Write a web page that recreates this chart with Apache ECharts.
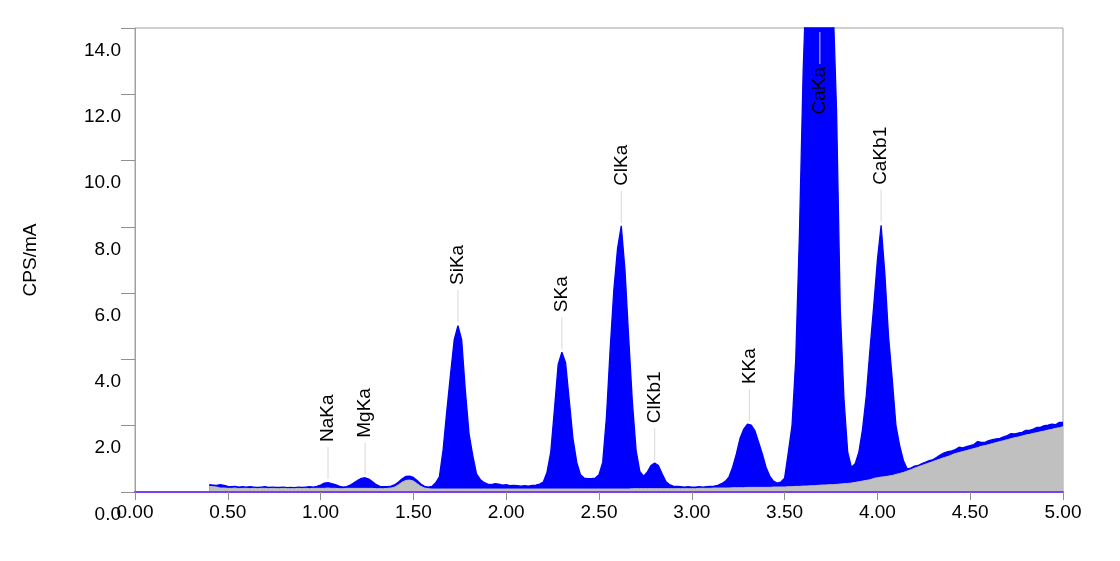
<!DOCTYPE html>
<html>
<head>
<meta charset="utf-8">
<title>XRF spectrum</title>
<script src="https://cdn.jsdelivr.net/npm/echarts@6/dist/echarts.min.js"></script>
<style>
  html, body { margin: 0; padding: 0; background: #fff; }
  #chart { width: 1120px; height: 561px; }
</style>
</head>
<body>
<div id="chart"></div>
<script>
// energy channels (keV), 0.40 .. 5.00 every 0.02
var energyStart = 0.40;
var energyStep = 0.02;
var channelCount = 231;

var spectrum = [
    0.22,0.21,0.20,0.22,0.20,0.17,0.16,0.17,0.15,0.16,   // 0.40
    0.15,0.16,0.15,0.14,0.15,0.16,0.14,0.15,0.14,0.14,   // 0.60
    0.15,0.13,0.14,0.13,0.15,0.14,0.15,0.16,0.15,0.17,   // 0.80
    0.21,0.27,0.28,0.25,0.22,0.18,0.15,0.16,0.21,0.28,   // 1.00
    0.35,0.41,0.43,0.39,0.31,0.22,0.17,0.16,0.16,0.18,   // 1.20
    0.22,0.30,0.40,0.47,0.48,0.44,0.35,0.24,0.17,0.15,   // 1.40
    0.17,0.28,0.46,1.27,2.45,3.55,4.60,5.02,4.60,3.05,   // 1.60
    1.75,1.10,0.55,0.38,0.29,0.24,0.22,0.25,0.24,0.21,   // 1.80
    0.22,0.19,0.20,0.19,0.18,0.19,0.18,0.20,0.21,0.24,   // 2.00
    0.30,0.60,1.20,2.50,3.85,4.22,3.90,2.75,1.60,0.90,   // 2.20
    0.52,0.42,0.40,0.40,0.42,0.52,0.90,2.25,4.30,6.10,   // 2.40
    7.35,8.03,6.70,4.65,2.70,1.25,0.62,0.48,0.60,0.80,   // 2.60
    0.87,0.80,0.55,0.32,0.22,0.18,0.17,0.16,0.15,0.16,   // 2.80
    0.15,0.15,0.16,0.15,0.16,0.17,0.18,0.20,0.25,0.32,   // 3.00
    0.45,0.75,1.15,1.62,1.90,2.05,2.02,1.85,1.50,1.15,   // 3.20
    0.75,0.48,0.33,0.27,0.30,0.42,1.20,2.00,4.00,7.80,   // 3.40
    12.7,16.0,18.5,19.5,20.0,19.5,18.5,16.5,15.0,11.5,   // 3.60
    5.50,2.80,1.20,0.75,0.85,1.20,1.90,2.90,4.30,5.60,   // 3.80
    7.00,8.05,6.60,4.70,3.40,2.00,1.40,0.95,0.70,0.72,   // 4.00
    0.78,0.80,0.86,0.90,0.95,0.98,1.05,1.12,1.18,1.22,   // 4.20
    1.24,1.28,1.35,1.33,1.37,1.40,1.43,1.52,1.50,1.50,   // 4.40
    1.55,1.58,1.60,1.62,1.66,1.70,1.76,1.75,1.78,1.80,   // 4.60
    1.86,1.86,1.90,1.95,1.96,2.00,2.02,2.05,2.03,2.10,   // 4.80
    2.10                                                 // 5.00
];

// background (gray)
var background = [
    0.17,0.16,0.15,0.12,0.12,0.11,0.11,0.12,0.10,0.11,   // 0.40
    0.11,0.10,0.11,0.10,0.11,0.11,0.10,0.11,0.10,0.10,   // 0.60
    0.11,0.10,0.10,0.10,0.11,0.10,0.11,0.10,0.11,0.11,   // 0.80
    0.11,0.11,0.12,0.11,0.11,0.10,0.10,0.11,0.11,0.11,   // 1.00
    0.11,0.11,0.11,0.11,0.11,0.10,0.10,0.10,0.11,0.12,   // 1.20
    0.15,0.22,0.30,0.35,0.36,0.33,0.25,0.17,0.12,0.10,   // 1.40
    0.09,0.09,0.09,0.09,0.09,0.09,0.09,0.09,0.09,0.09,   // 1.60
    0.09,0.09,0.09,0.09,0.09,0.09,0.09,0.09,0.09,0.09,   // 1.80
    0.09,0.09,0.09,0.09,0.09,0.09,0.09,0.09,0.09,0.09,   // 2.00
    0.09,0.09,0.09,0.09,0.09,0.09,0.09,0.09,0.09,0.09,   // 2.20
    0.09,0.09,0.09,0.09,0.09,0.09,0.09,0.09,0.09,0.09,   // 2.40
    0.09,0.09,0.09,0.09,0.10,0.10,0.10,0.10,0.10,0.10,   // 2.60
    0.10,0.10,0.10,0.10,0.10,0.10,0.10,0.10,0.10,0.10,   // 2.80
    0.10,0.10,0.11,0.11,0.11,0.11,0.12,0.12,0.12,0.12,   // 3.00
    0.12,0.13,0.13,0.13,0.13,0.14,0.14,0.14,0.14,0.14,   // 3.20
    0.14,0.14,0.15,0.15,0.15,0.15,0.16,0.16,0.17,0.17,   // 3.40
    0.18,0.18,0.19,0.19,0.20,0.21,0.21,0.22,0.22,0.23,   // 3.60
    0.24,0.25,0.26,0.27,0.29,0.31,0.33,0.35,0.37,0.41,   // 3.80
    0.43,0.45,0.46,0.48,0.50,0.53,0.56,0.59,0.63,0.67,   // 4.00
    0.72,0.76,0.80,0.84,0.88,0.92,0.96,1.00,1.04,1.07,   // 4.20
    1.12,1.16,1.19,1.22,1.25,1.28,1.31,1.34,1.38,1.40,   // 4.40
    1.43,1.46,1.49,1.52,1.55,1.58,1.61,1.64,1.66,1.69,   // 4.60
    1.72,1.74,1.77,1.79,1.82,1.84,1.87,1.89,1.92,1.94,   // 4.80
    1.97                                                 // 5.00
];

// peak identification
var peakNames  = ['NaKa', 'MgKa', 'SiKa', 'SKa', 'ClKa', 'ClKb1', 'KKa', 'CaKa', 'CaKb1'];
var peakEnergy = [1.04, 1.24, 1.74, 2.30, 2.62, 2.80, 3.31, 3.69, 4.02];
var peakHeight = [0.30, 0.43, 5.04, 4.22, 8.03, 0.87, 2.05, 14.0, 8.06];

var xTicks = [0, 5, 0.5];     // min, max, interval
var yTicks = [0, 14, 2];

var fontName = 'Liberation Sans';
var fontSize = 19;

var specData = [], bgData = [];
for (var i = 0; i < channelCount; i++) {
    var e = +(energyStart + i * energyStep).toFixed(2);
    specData.push([e, spectrum[i]]);
    bgData.push([e, background[i]]);
}

var peakData = [];
for (var k = 0; k < peakNames.length; k++) {
    var item = { name: peakNames[k], value: [peakEnergy[k], peakHeight[k]] };
    if (peakHeight[k] >= yTicks[1]) {
        // off scale peak: label hangs down from the top edge
        item.symbolOffset = [0, 20];
        item.label = { position: 'bottom', align: 'right', distance: 3 };
    }
    peakData.push(item);
}

var myChart = echarts.init(document.getElementById('chart'));
var option = {
    animation: false,
    textStyle: { fontFamily: fontName },
    grid: {
        left: 135, right: 57, top: 28, bottom: 69,
        show: true,
        borderColor: '#a0a0a0',
        borderWidth: 1
    },
    xAxis: {
        type: 'value',
        min: xTicks[0], max: xTicks[1], interval: xTicks[2],
        z: 5,
        axisLine: { lineStyle: { color: '#7b3ff2', width: 2 } },
        axisTick: { show: true, length: 8, lineStyle: { color: '#909090' } },
        axisLabel: {
            margin: 11,
            fontSize: fontSize,
            color: '#000',
            fontFamily: fontName,
            formatter: function (v) { return v.toFixed(2); }
        },
        splitLine: { show: false }
    },
    yAxis: {
        type: 'value',
        min: yTicks[0], max: yTicks[1], interval: yTicks[2],
        name: 'CPS/mA',
        nameLocation: 'middle',
        nameGap: 95,
        nameTextStyle: { fontSize: fontSize, color: '#000', fontFamily: fontName },
        axisLine: { show: true, lineStyle: { color: '#a0a0a0', width: 1 } },
        axisTick: { show: true, length: 14, lineStyle: { color: '#909090' } },
        axisLabel: {
            margin: 14,
            fontSize: fontSize,
            lineHeight: 19,
            color: '#000',
            fontFamily: fontName,
            verticalAlign: 'top',
            padding: [13, 0, 0, 0],
            formatter: function (v) { return v.toFixed(1); }
        },
        splitLine: { show: false }
    },
    series: [
        {
            name: 'spectrum',
            type: 'line',
            data: specData,
            showSymbol: false,
            z: 2,
            lineStyle: { color: '#0000ff', width: 1.3 },
            itemStyle: { color: '#0000ff' },
            areaStyle: { color: '#0000ff', opacity: 1 }
        },
        {
            name: 'background',
            type: 'line',
            data: bgData,
            showSymbol: false,
            z: 3,
            lineStyle: { color: '#c0c0c0', width: 1 },
            itemStyle: { color: '#c0c0c0' },
            areaStyle: { color: '#c0c0c0', opacity: 1 }
        },
        {
            name: 'peaks',
            type: 'scatter',
            data: peakData,
            z: 4,
            symbol: 'rect',
            symbolSize: [1, 32],
            symbolOffset: [0, -19],
            itemStyle: { color: '#d8d8d8', opacity: 1 },
            label: {
                show: true,
                formatter: '{b}',
                rotate: 90,
                position: 'top',
                align: 'left',
                verticalAlign: 'middle',
                distance: 5,
                fontSize: fontSize,
                color: '#000',
                opacity: 1,
                fontFamily: fontName
            }
        }
    ]
};
myChart.setOption(option, true);
window.onresize = myChart.resize;
</script>
</body>
</html>
